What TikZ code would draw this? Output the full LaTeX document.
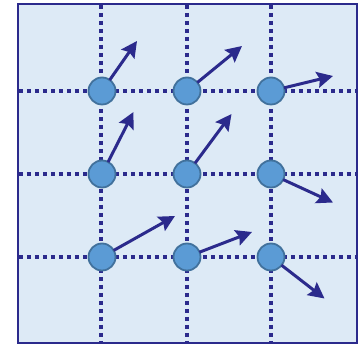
\documentclass[tikz,border=0pt]{standalone}
\usetikzlibrary{arrows.meta}
\definecolor{navy}{HTML}{2B2A8C}
\definecolor{bgblue}{HTML}{DDEAF6}
\definecolor{dotfill}{HTML}{5B9BD5}
\definecolor{dotedge}{HTML}{41719C}
\tikzset{
  frame/.style={draw=navy, line width=2.2pt, fill=bgblue},
  gridline/.style={draw=navy, line width=3.6pt, dash pattern=on 4pt off 4pt},
  site/.style={circle, fill=dotfill, draw=dotedge, line width=1.8pt, minimum size=27pt, inner sep=0pt},
  arr/.style={draw=navy, fill=navy, line width=3pt, -{Stealth[length=16pt,width=16pt,inset=2.5pt]}, shorten <=-1pt}
}
\begin{document}
\begin{tikzpicture}[x=1pt,y=-1pt]
\useasboundingbox (0,0) rectangle (360,344);
\path[frame] (18,4) rectangle (357,343);
% grid
\foreach \x in {101,187,271} {\draw[gridline] (\x,5) -- (\x,342);}
\foreach \y in {91,174,257} {\draw[gridline] (19,\y) -- (356,\y);}
% sites
\node[site] (n11) at (102,91) {};
\node[site] (n12) at (187,91) {};
\node[site] (n13) at (271,91) {};
\node[site] (n21) at (102,174) {};
\node[site] (n22) at (187,174) {};
\node[site] (n23) at (271,174) {};
\node[site] (n31) at (102,257) {};
\node[site] (n32) at (187,257) {};
\node[site] (n33) at (271,257) {};
% tips
\coordinate (t11) at (137,41);
\coordinate (t12) at (242,46);
\coordinate (t13) at (333,76);
\coordinate (t21) at (133.5,112);
\coordinate (t22) at (231.5,114);
\coordinate (t23) at (333,202.5);
\coordinate (t31) at (175,216);
\coordinate (t32) at (252,232);
\coordinate (t33) at (324.5,298.5);
\foreach \i in {11,12,13,21,22,23,31,32,33} {\draw[arr] (n\i) -- (t\i);}
\end{tikzpicture}
\end{document}
